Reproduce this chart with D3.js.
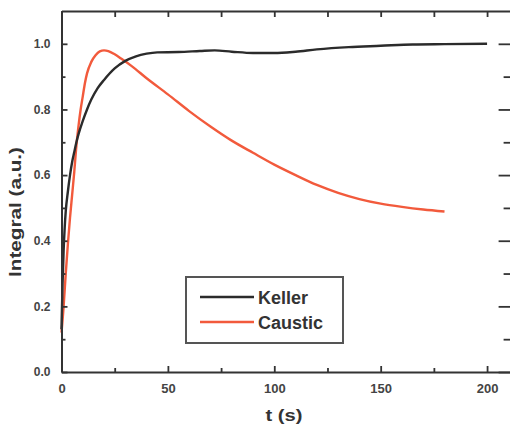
<!DOCTYPE html>
<html>
<head>
<meta charset="utf-8">
<script src="https://cdn.jsdelivr.net/npm/d3@7"></script>
<style>
  html, body { margin: 0; padding: 0; background: #fff; }
  svg { display: block; }
</style>
</head>
<body>
<svg id="chart" width="510" height="428"></svg>
<script>
// ---- data ----
const kellerT = [0, 0.5, 1, 1.5, 2, 3, 4, 5, 6, 7, 8, 10, 12, 14, 17, 20, 25, 30, 35, 40, 45, 55, 65, 72, 80, 90, 100, 110, 120, 135, 150, 165, 180, 200];
const kellerV = [0.13, 0.27, 0.37, 0.44, 0.49, 0.55, 0.60, 0.64, 0.67, 0.70, 0.725, 0.765, 0.80, 0.83, 0.865, 0.89, 0.925, 0.948, 0.962, 0.970, 0.974, 0.975, 0.978, 0.980, 0.976, 0.972, 0.972, 0.976, 0.983, 0.990, 0.994, 0.998, 0.999, 1.000];
const causticT = [0, 1, 2, 3, 4, 5, 6, 7, 8, 9, 10, 11, 12, 14, 16, 18, 20, 22, 25, 28, 33, 40, 50, 60, 70, 80, 90, 100, 110, 120, 130, 140, 150, 160, 170, 180];
const causticV = [0.12, 0.20, 0.30, 0.39, 0.47, 0.54, 0.61, 0.69, 0.75, 0.80, 0.84, 0.88, 0.91, 0.945, 0.965, 0.977, 0.980, 0.978, 0.968, 0.955, 0.932, 0.895, 0.846, 0.795, 0.748, 0.705, 0.668, 0.632, 0.600, 0.570, 0.546, 0.527, 0.513, 0.503, 0.495, 0.489];
const xTickValues = [0, 50, 100, 150, 200];
const xTickLabels = ["0", "50", "100", "150", "200"];
const xMinorTicks = [25, 75, 125, 175];
const yTickValues = [0, 0.2, 0.4, 0.6, 0.8, 1.0];
const yTickLabels = ["0.0", "0.2", "0.4", "0.6", "0.8", "1.0"];
const yMinorTicks = [0.1, 0.3, 0.5, 0.7, 0.9];
const seriesNames = ["Keller", "Caustic"];
const seriesColors = ["#2b2b2b", "#f25a3c"];

// ---- layout ----
const svg = d3.select("#chart");
const L = 61.5, R = 512.6, T = 11, B = 372;
const x = d3.scaleLinear().domain([0, 212]).range([L, R]);
const y = d3.scaleLinear().domain([0, 1.1]).range([B, T]);
const axisColor = "#333";
const labelColor = "#444";
const font = "Arial, 'Liberation Sans', sans-serif";

// curves
const line = d3.line().x(d => x(d[0])).y(d => y(d[1])).curve(d3.curveMonotoneX);
const series = [
  d3.zip(kellerT, kellerV),
  d3.zip(causticT, causticV)
];
svg.append("path").datum(series[1]).attr("d", line)
  .attr("fill", "none").attr("stroke", seriesColors[1]).attr("stroke-width", 2.4);
svg.append("path").datum(series[0]).attr("d", line)
  .attr("fill", "none").attr("stroke", seriesColors[0]).attr("stroke-width", 2.4);

// axes
function styleAxis(g, size) {
  g.selectAll("path").attr("stroke", axisColor).attr("stroke-width", 2);
  g.selectAll("line").attr("stroke", axisColor).attr("stroke-width", 1.8);
  g.selectAll("text").attr("fill", labelColor).style("font-family", font)
    .style("font-size", (size || 12) + "px").style("font-weight", "bold");
}

// bottom
svg.append("g").attr("transform", `translate(0,${B})`)
  .call(d3.axisBottom(x).tickValues(xTickValues).tickFormat((d, i) => xTickLabels[i])
    .tickSizeInner(-6).tickSizeOuter(0).tickPadding(12))
  .call(g => styleAxis(g, 13));
svg.append("g").attr("transform", `translate(0,${B})`)
  .call(d3.axisBottom(x).tickValues(xMinorTicks).tickFormat("").tickSizeInner(-4).tickSizeOuter(0))
  .call(g => g.select("path").remove()).call(g => styleAxis(g));

// top
svg.append("g").attr("transform", `translate(0,${T})`)
  .call(d3.axisTop(x).tickValues(xTickValues.concat(xMinorTicks)).tickFormat("").tickSizeInner(-6).tickSizeOuter(0))
  .call(g => styleAxis(g));

// left
svg.append("g").attr("transform", `translate(${L},0)`)
  .call(d3.axisLeft(y).tickValues(yTickValues).tickFormat((d, i) => yTickLabels[i])
    .tickSizeInner(-6).tickSizeOuter(0).tickPadding(11))
  .call(g => styleAxis(g, 12));
svg.append("g").attr("transform", `translate(${L},0)`)
  .call(d3.axisLeft(y).tickValues(yMinorTicks).tickFormat("").tickSizeInner(-4).tickSizeOuter(0))
  .call(g => g.select("path").remove()).call(g => styleAxis(g));

// right
svg.append("g").attr("transform", `translate(${R},0)`)
  .call(d3.axisRight(y).tickValues(yTickValues).tickFormat("").tickSizeInner(-14).tickSizeOuter(0))
  .call(g => styleAxis(g));
svg.append("g").attr("transform", `translate(${R},0)`)
  .call(d3.axisRight(y).tickValues(yMinorTicks).tickFormat("").tickSizeInner(-9).tickSizeOuter(0))
  .call(g => g.select("path").remove()).call(g => styleAxis(g));

// axis titles
svg.append("text").attr("x", 284).attr("y", 421).attr("text-anchor", "middle")
  .attr("fill", "#333").style("font-family", font).style("font-size", "17px").style("font-weight", "bold")
  .attr("textLength", 37).attr("lengthAdjust", "spacingAndGlyphs")
  .text("t (s)");
svg.append("text").attr("transform", `translate(21,212) rotate(-90)`)
  .attr("text-anchor", "middle")
  .attr("fill", "#333").style("font-family", font).style("font-size", "16px").style("font-weight", "bold")
  .attr("textLength", 130).attr("lengthAdjust", "spacingAndGlyphs")
  .text("Integral (a.u.)");

// legend
const lg = svg.append("g");
lg.append("rect").attr("x", 186).attr("y", 277).attr("width", 157).attr("height", 66)
  .attr("fill", "#fff").attr("stroke", "#555").attr("stroke-width", 2);
seriesNames.forEach((name, i) => {
  const yy = 297 + i * 25;
  lg.append("line").attr("x1", 200).attr("x2", 254).attr("y1", yy).attr("y2", yy)
    .attr("stroke", seriesColors[i]).attr("stroke-width", 2.4);
  lg.append("text").attr("x", 258).attr("y", yy + 7)
    .attr("fill", "#333").style("font-family", font).style("font-size", "18px").style("font-weight", "bold")
    .text(name);
});
</script>
</body>
</html>
